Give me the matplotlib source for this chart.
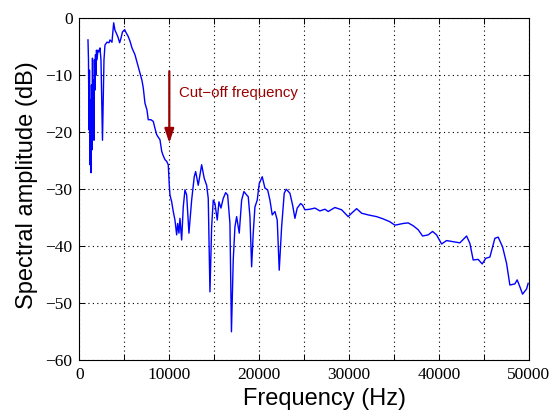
import numpy as np
import matplotlib
matplotlib.use('Agg')
import matplotlib.pyplot as plt
from matplotlib.ticker import MultipleLocator, FuncFormatter

# Spectrum
freq = [946, 1002, 1057, 1113, 1169, 1224, 1280, 1336, 1391, 1447, 1503, 1558, 1614,
        1670, 1725, 1781, 1836, 1892, 1948, 2059, 2170, 2282, 2393, 2560, 2671, 2727,
        2838, 3061, 3283, 3395, 3617, 3806, 3951, 4096, 4285, 4474, 4619, 4786, 5031,
        5209, 5398, 5621, 5843, 6177, 6400, 6734, 6956, 7101, 7290, 7513, 7657, 7958,
        8214, 8403, 8592, 8737, 8960, 9149, 9293, 9516, 9705, 9883, 9995, 10073, 10262,
        10440, 10629, 10818, 10930, 11074, 11186, 11375, 11553, 11742, 11931, 12187,
        12488, 12777, 12933, 13222, 13601, 13890, 14157, 14335, 14525, 14714, 14892,
        15081, 15337, 15526, 15749, 16005, 16272, 16495, 16751, 16918, 17118, 17307,
        17496, 17786, 18053, 18309, 18609, 18787, 18977, 19166, 19344, 19533, 19789,
        20012, 20346, 20646, 20947, 21203, 21459, 21759, 22015, 22238, 22505, 22794,
        23017, 23429, 23729, 23985, 24241, 24620, 24842, 25098, 25655, 26211, 26768,
        27324, 27692, 28437, 29183, 29550, 29917, 30296, 30852, 31409, 32143, 33078,
        33813, 34558, 35115, 36039, 36595, 37152, 37708, 38198, 38821, 39311, 39756,
        40313, 40869, 41604, 42350, 42717, 43096, 43464, 43831, 44388, 44833, 45244,
        45689, 46246, 46613, 47103, 47548, 47915, 48472, 48728, 49028, 49328, 49774,
        49952]
amp_db = [-3.9, -7.4, -19.7, -9.2, -25.8, -14.4, -27.2, -11.8, -23.2, -7.1, -17.9, -10.9, -21.5,
          -7.4, -12.7, -6.5, -10.1, -5.7, -7.4, -5.7, -6.0, -5.3, -7.4, -21.5, -12.7, -7.4,
          -4.8, -4.3, -4.4, -3.9, -4.3, -0.9, -2.2, -2.7, -3.4, -4.4, -3.6, -2.5, -2.1,
          -2.7, -3.2, -4.1, -5.3, -6.5, -7.8, -9.7, -11.0, -12.3, -15.0, -16.2, -17.9, -17.9,
          -18.2, -19.4, -20.5, -20.9, -21.4, -23.4, -24.1, -24.9, -25.2, -25.8, -29.3, -31.1, -32.3,
          -34.0, -35.5, -38.1, -36.1, -37.8, -35.2, -39.0, -33.2, -30.2, -31.1, -37.8,
          -32.0, -27.9, -27.0, -29.4, -25.8, -28.2, -29.4, -31.7, -48.1, -36.7, -32.0,
          -32.6, -35.5, -32.3, -33.4, -31.7, -30.7, -31.1, -36.1, -55.1, -42.5, -36.7,
          -34.9, -37.8, -32.0, -30.5, -31.1, -31.4, -34.9, -43.7, -37.8, -33.2, -32.0,
          -29.1, -27.9, -29.9, -30.2, -32.0, -34.6, -34.0, -35.5, -44.3, -36.7, -30.8,
          -30.1, -30.8, -32.9, -35.2, -33.4, -32.6, -32.9, -33.7, -33.6, -33.4, -33.9,
          -33.6, -34.0, -33.3, -33.7, -34.3, -34.9, -34.3, -33.5, -34.3, -34.6, -34.9,
          -35.3, -35.8, -36.4, -36.1, -36.0, -36.5, -37.2, -38.3, -38.1, -37.5, -38.1,
          -39.7, -39.1, -39.3, -39.5, -38.9, -38.3, -39.6, -42.5, -42.4, -43.2, -42.2,
          -42.0, -38.7, -38.5, -40.2, -43.1, -46.9, -46.7, -46.0, -47.2, -48.5, -47.6,
          -46.6]

cutoff_hz = 10000
cutoff_label = 'Cut\u2212off frequency'

fig = plt.figure(figsize=(5.57, 4.17), dpi=100)
ax = fig.add_axes([0.1427, 0.1374, 0.8063, 0.8202])

ax.plot(freq, amp_db, color='#0000ff', lw=1.0)

ax.set_xlim(0, 50000)
ax.set_ylim(-60, 0)
ax.xaxis.set_major_locator(MultipleLocator(5000))
ax.yaxis.set_major_locator(MultipleLocator(10))
ax.xaxis.set_major_formatter(FuncFormatter(lambda v, p: '%d' % v if v % 10000 == 0 else ''))
ax.yaxis.set_major_formatter(FuncFormatter(lambda v, p: ('%d' % v).replace('-', '\u2212')))
ax.tick_params(direction='in', top=True, right=True, length=4, width=0.7,
               labelsize=12.5, pad=5)
for lab in ax.get_xticklabels() + ax.get_yticklabels():
    lab.set_family('Liberation Serif')
ax.grid(True, color='black', linestyle=(0, (1, 3)), linewidth=0.8)
for s in ax.spines.values():
    s.set_linewidth(0.8)

ax.set_xlabel('Frequency (Hz)', family='Liberation Sans', fontsize=17)
ax.set_ylabel('Spectral amplitude (dB)', family='Liberation Sans', fontsize=17)
ax.xaxis.set_label_coords(0.545, -0.115, transform=ax.transAxes)
ax.xaxis.label.set_va('center')
ax.yaxis.set_label_coords(-0.117, 0.51, transform=ax.transAxes)
ax.yaxis.label.set_va('center')

# cut-off arrow and label
ax.annotate('', xy=(cutoff_hz, -22.0), xytext=(cutoff_hz, -9.4),
            arrowprops=dict(arrowstyle='-|>,head_length=0.6,head_width=0.2',
                            color='#990000', lw=1.6,
                            mutation_scale=14, shrinkA=0, shrinkB=0))
ax.text(11100, -13.2, cutoff_label, color='#990000', family='Liberation Sans',
        fontsize=10.8, va='center', ha='left')

fig.savefig('out.png', dpi=100)
